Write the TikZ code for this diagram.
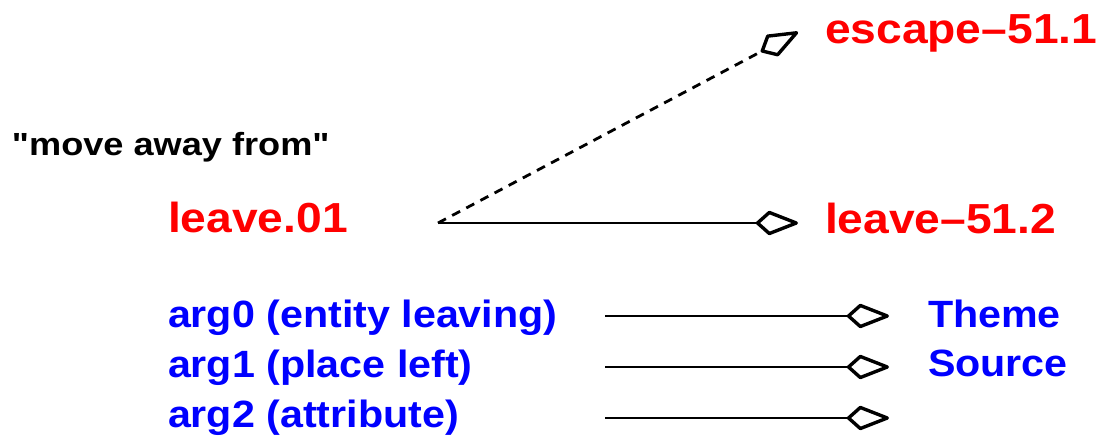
\documentclass[tikz,border=0pt]{standalone}
\usepackage{fontspec}
\setmainfont{Liberation Sans}
\newfontfamily\widesans{Liberation Sans}[FakeStretch=1.1]
\newfontfamily\bluesans{Liberation Sans}[FakeStretch=1.085]
\newfontfamily\widersans{Liberation Sans}[FakeStretch=1.13]
\usetikzlibrary{arrows.meta}
\definecolor{lblred}{RGB}{255,0,0}
\definecolor{lblblue}{RGB}{0,0,255}
\tikzset{
  txt/.style={anchor=base west, inner sep=0pt, outer sep=0pt},
  redlbl/.style={txt, text=lblred, font=\widesans\bfseries\fontsize{42}{48}\selectfont},
  bluelbl/.style={txt, text=lblblue, font=\bluesans\bfseries\fontsize{38}{44}\selectfont},
  blacklbl/.style={txt, text=black, font=\widersans\bfseries\fontsize{32}{38}\selectfont},
  conn/.style={line width=2.8pt, draw=black, -{Kite[open, length=46pt, width=25pt, inset=14pt, line width=3.4pt, round]}},
  dashconn/.style={conn, dash pattern=on 9pt off 7pt}
}
\begin{document}
\begin{tikzpicture}[x=1pt,y=-1pt]
\useasboundingbox (0,0) rectangle (1101,439);
% labels
\node[blacklbl] (gloss) at (12,155) {"move away from"};
\node[redlbl] (lv01) at (168,232) {leave.01};
\node[redlbl] (esc) at (825,43) {escape–51.1};
\node[redlbl] (lv512) at (825,233) {leave–51.2};
\node[bluelbl] (a0) at (168,327) {arg0 (entity leaving)};
\node[bluelbl] (a1) at (168,377) {arg1 (place left)};
\node[bluelbl] (a2) at (168,427) {arg2 (attribute)};
\node[bluelbl] (theme) at (928,327) {Theme};
\node[bluelbl] (source) at (928,376) {Source};
% connector end points
\coordinate (src) at (438,223);
\coordinate (escTip) at (798,32);
\coordinate (lvTip) at (798,223);
\coordinate (s0) at (605,316);
\coordinate (s1) at (605,367);
\coordinate (s2) at (605,418);
\coordinate (t0) at (889,316);
\coordinate (t1) at (889,367);
\coordinate (t2) at (889,418);
% connectors
\draw[dashconn] (src) -- (escTip);
\draw[conn] (src) -- (lvTip);
\draw[conn] (s0) -- (t0);
\draw[conn] (s1) -- (t1);
\draw[conn] (s2) -- (t2);
\end{tikzpicture}
\end{document}
